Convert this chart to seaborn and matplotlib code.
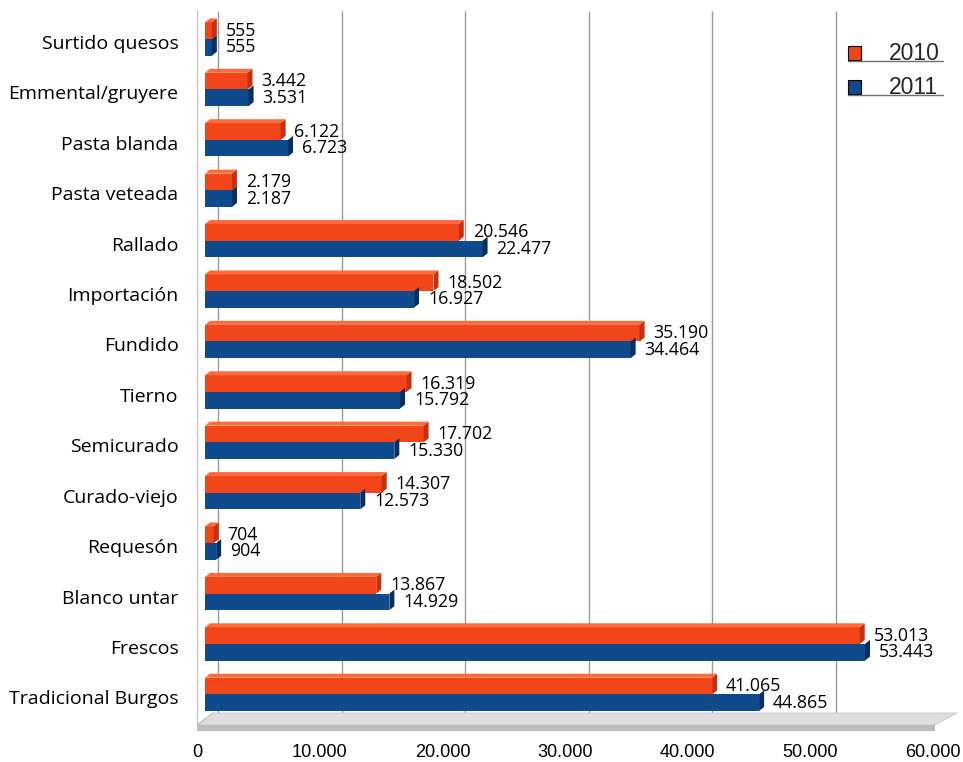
import matplotlib
matplotlib.use("Agg")
import matplotlib.pyplot as plt
import matplotlib.transforms as mtransforms
from matplotlib.patches import Polygon, Rectangle
from matplotlib.lines import Line2D
import seaborn as sns
import pandas as pd

# ---- data -------------------------------------------------------------
categories = [
    "Surtido quesos", "Emmental/gruyere", "Pasta blanda", "Pasta veteada",
    "Rallado", "Importación", "Fundido", "Tierno", "Semicurado",
    "Curado-viejo", "Requesón", "Blanco untar", "Frescos", "Tradicional Burgos",
]
ventas_2010 = [555, 3442, 6122, 2179, 20546, 18502, 35190, 16319, 17702,
               14307, 704, 13867, 53013, 41065]
ventas_2011 = [555, 3531, 6723, 2187, 22477, 16927, 34464, 15792, 15330,
               12573, 904, 14929, 53443, 44865]
years = ["2010", "2011"]
tick_values = [0, 10000, 20000, 30000, 40000, 50000, 60000]
tick_labels = ["0", "10.000", "20.000", "30.000", "40.000", "50.000", "60.000"]

series = {"2010": ventas_2010, "2011": ventas_2011}
df = pd.DataFrame(
    [(c, y, v) for y in years for c, v in zip(categories, series[y])],
    columns=["categoria", "año", "valor"],
)


def fmt(v):
    return f"{v:,}".replace(",", ".")


# ---- styling ----------------------------------------------------------
sns.set_theme(style="white")
plt.rcParams["font.family"] = ["Open Sans", "DejaVu Sans"]
arial_like = ["Liberation Sans", "DejaVu Sans"]

front = {"2010": "#F2461A", "2011": "#0E4A8C"}
top_face = {"2010": "#FF6A3A", "2011": "#2A62A4"}
side_face = {"2010": "#C23210", "2011": "#082F5E"}

W, H = 963, 762
fig = plt.figure(figsize=(W / 100, H / 100), dpi=100)
ax = fig.add_axes([205 / W, 1 - 713 / H, 741 / W, 702 / H])

sns.barplot(
    data=df, y="categoria", x="valor", hue="año", orient="h",
    palette=[front[y] for y in years], width=0.66, saturation=1,
    linewidth=0, legend=False, ax=ax,
)

ax.set_xlim(0, 60000)
ax.set_ylim(13.37, -0.556)
ax.set_xlabel("")
ax.set_ylabel("")
for s in ax.spines.values():
    s.set_visible(False)

ax.set_xticks(tick_values, tick_labels)
ax.tick_params(axis="x", length=0, pad=22, labelsize=13.1, colors="black")
ax.tick_params(axis="y", length=0, pad=19, labelsize=14, colors="black")
for lab in ax.get_xticklabels():
    lab.set_family(arial_like)
ax.grid(False)

# back-wall gridlines, shifted by the depth of the 3D box
wall_shift = mtransforms.ScaledTranslation(13 / 100, 0, fig.dpi_scale_trans)
ax.vlines(tick_values[:-1], 0, 1, color="#9a9a9a", lw=1.0,
          transform=mtransforms.blended_transform_factory(ax.transData, ax.transAxes) + wall_shift,
          zorder=0.5, clip_on=False)

# tick labels sit under the front edge of the (perspective) floor
for i, lab in enumerate(ax.get_xticklabels()):
    shift = mtransforms.ScaledTranslation(-(8 + 0.8 * i) / 100, 0, fig.dpi_scale_trans)
    lab.set_transform(lab.get_transform() + shift)
cat_shift = mtransforms.ScaledTranslation(0, -3 / 100, fig.dpi_scale_trans)
for lab in ax.get_yticklabels():
    lab.set_transform(lab.get_transform() + cat_shift)

# 3D faces on each bar (top and right side)
dx, dy = 5, 4
for year, cont in zip(years, ax.containers):
    for rect in cont:
        x0, y0 = rect.get_x(), rect.get_y()
        x1, y1 = x0 + rect.get_width(), y0 + rect.get_height()
        (px0, pyb), (px1, pyt) = ax.transData.transform([(x0, y1), (x1, y0)])
        if year == years[0]:
            ax.add_patch(Polygon(
                [(px0, pyt), (px0 + dx, pyt + dy), (px1 + dx, pyt + dy), (px1, pyt)],
                closed=True, facecolor=top_face[year], edgecolor="none",
                transform=mtransforms.IdentityTransform(), clip_on=False, zorder=3))
        ax.add_patch(Polygon(
            [(px1, pyb), (px1 + dx, pyb + dy), (px1 + dx, pyt + dy), (px1, pyt)],
            closed=True, facecolor=side_face[year], edgecolor="none",
            transform=mtransforms.IdentityTransform(), clip_on=False, zorder=3))

# value labels
for year, cont in zip(years, ax.containers):
    ax.bar_label(cont, labels=[fmt(v) for v in series[year]], padding=10,
                 fontsize=12.8, color="black")


def fx(px):
    return px / W


def fy(py):
    return 1 - py / H


# floor of the 3D box
fig.patches.append(Polygon(
    [(fx(213), fy(713)), (fx(957), fy(713)), (fx(935), fy(725)), (fx(197), fy(725))],
    closed=True, facecolor="#dedede", edgecolor="#c8c8c8", lw=0.6,
    transform=fig.transFigure, zorder=0))
fig.patches.append(Polygon(
    [(fx(197), fy(725)), (fx(935), fy(725)), (fx(935), fy(731)), (fx(197), fy(731))],
    closed=True, facecolor="#bdbdbd", edgecolor="none",
    transform=fig.transFigure, zorder=0))
fig.lines.append(Line2D([fx(197), fx(197)], [fy(10), fy(725)], color="#c8c8c8",
                        lw=1.0, transform=fig.transFigure))
fig.lines.append(Line2D([fx(197), fx(213)], [fy(725), fy(713)], color="#c8c8c8",
                        lw=1.0, transform=fig.transFigure))

# legend
for i, year in enumerate(years):
    top = 46 + i * 34
    fig.patches.append(Rectangle((fx(848), fy(top + 14)), 13 / W, 14 / H,
                                 facecolor=front[year], edgecolor="black", lw=0.8,
                                 transform=fig.transFigure))
    fig.text(fx(889), fy(top + 7), year, fontsize=16.5, va="center", ha="left",
             family=arial_like)
    fig.lines.append(Line2D([fx(848), fx(943)], [fy(top + 14.5)] * 2, color="#707070",
                            lw=1.0, transform=fig.transFigure))

fig.savefig("out.png", dpi=100)
